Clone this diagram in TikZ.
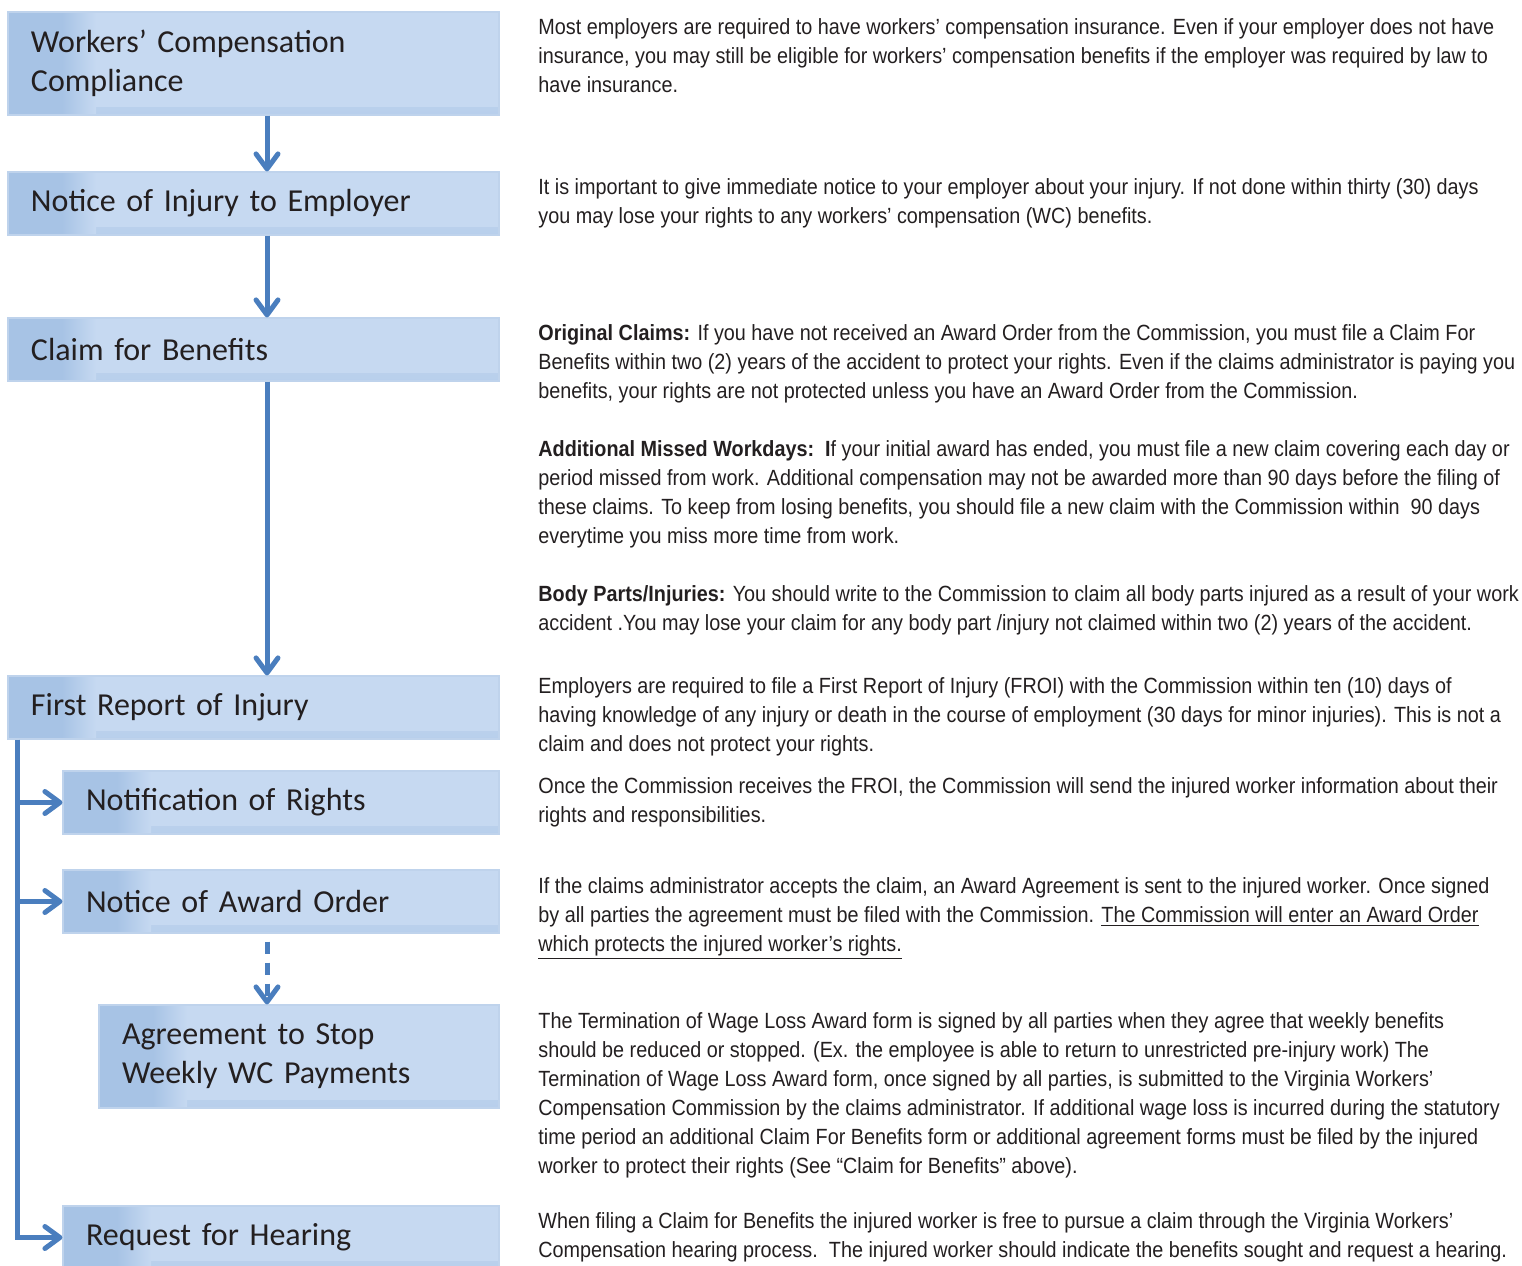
\documentclass[tikz,border=0pt]{standalone}
\usepackage{fontspec}
\setmainfont{Liberation Sans}[FakeStretch=0.9]
\newfontfamily\boxfont{Carlito}
\usetikzlibrary{arrows.meta,positioning,calc}
\definecolor{boxfill}{HTML}{C6D9F1}
\definecolor{boxdark}{HTML}{A7C3E5}
\definecolor{boxline}{HTML}{BFD3EC}
\definecolor{flowblue}{HTML}{4A7EBE}
\definecolor{inkgray}{HTML}{231F20}
\tikzset{
	stage/.style={fill=boxfill,draw=boxline,line width=0.6pt,inner xsep=11.5pt,inner ysep=0pt,
		minimum height=31.5pt,align=left,text=inkgray,font=\boxfont\fontsize{16}{19.5}\selectfont,
		path picture={
			\shade[top color=boxfill,bottom color=boxdark!45!boxfill] ([yshift=4pt]path picture bounding box.south west) rectangle (path picture bounding box.south east);
			\fill[boxdark] (path picture bounding box.south west) rectangle ([xshift=27pt]path picture bounding box.north west);
			\shade[left color=boxdark,right color=boxfill] ([xshift=27pt]path picture bounding box.south west) rectangle ([xshift=44pt]path picture bounding box.north west);
		}},
	note/.style={anchor=base west,inner sep=0pt,align=left,text=inkgray,font=\fontsize{11}{14.5}\selectfont},
	flow/.style={draw=flowblue,line width=2.5pt,-{Straight Barb[length=7.5pt,width=11pt,line width=2.5pt,round]}}
}
\begin{document}
\begin{tikzpicture}[x=0.5pt,y=-0.5pt]
	\useasboundingbox (0,0) rectangle (1522,1265);
	% left column
	\node[stage,text width=222.5pt,minimum height=51.5pt] (wcc) at (253.5,63.5) {Workers’ Compensation\\Compliance};
	\node[stage,text width=222.5pt] (notice) at (253.5,203.5) {Notice of Injury to Employer};
	\node[stage,text width=222.5pt] (claim) at (253.5,349.5) {Claim for Benefits};
	\node[stage,text width=222.5pt] (froi) at (253.5,707.5) {First Report of Injury};
	\node[stage,text width=195pt] (rights) at (281,802.5) {Notification of Rights};
	\node[stage,text width=195pt] (award) at (281,901.5) {Notice of Award Order};
	\node[stage,text width=177pt,minimum height=51.5pt] (stop) at (299,1056.5) {Agreement to Stop\\Weekly WC Payments};
	\node[stage,text width=195pt] (hearing) at (281,1237.5) {Request for Hearing};
	\draw[flow] ([xshift=6.75pt]wcc.south) -- ([xshift=6.75pt]notice.north);
	\draw[flow] ([xshift=6.75pt]notice.south) -- ([xshift=6.75pt]claim.north);
	\draw[flow] ([xshift=6.75pt]claim.south) -- ([xshift=6.75pt]froi.north);
	\draw[flow,dash pattern=on 6pt off 4.5pt,shorten <=4pt] ([xshift=-7pt]award.south) -- ([xshift=-16pt]stop.north);
	\coordinate (trunk) at ([xshift=5pt]froi.south west);
	\draw[flow] (trunk) |- (hearing.west);
	\draw[flow] (rights.west -| trunk) -- (rights.west);
	\draw[flow] (award.west -| trunk) -- (award.west);
	% right column (base = last line)
	\node[note] (t1) at (538,92) {Most employers are required to have workers’ compensation insurance. Even if your employer does not have\\insurance, you may still be eligible for workers’ compensation benefits if the employer was required by law to\\have insurance.};
	\node[note] (t2) at (538,223) {It is important to give immediate notice to your employer about your injury. If not done within thirty (30) days\\you may lose your rights to any workers’ compensation (WC) benefits.};
	\node[note] (t3) at (538,398) {\textbf{Original Claims:} If you have not received an Award Order from the Commission, you must file a Claim For\\Benefits within two (2) years of the accident to protect your rights. Even if the claims administrator is paying you\\benefits, your rights are not protected unless you have an Award Order from the Commission.};
	\node[note] (t4) at (538,543) {\textbf{Additional Missed Workdays:\ \ I}f your initial award has ended, you must file a new claim covering each day or\\period missed from work. Additional compensation may not be awarded more than 90 days before the filing of\\these claims. To keep from losing benefits, you should file a new claim with the Commission within\ \ 90 days\\everytime you miss more time from work.};
	\node[note] (t5) at (538,630) {\textbf{Body Parts/Injuries:} You should write to the Commission to claim all body parts injured as a result of your work\\accident .You may lose your claim for any body part /injury not claimed within two (2) years of the accident.};
	\node[note] (t6) at (538,751) {Employers are required to file a First Report of Injury (FROI) with the Commission within ten (10) days of\\having knowledge of any injury or death in the course of employment (30 days for minor injuries). This is not a\\claim and does not protect your rights.};
	\node[note] (t7) at (538,822) {Once the Commission receives the FROI, the Commission will send the injured worker information about their\\rights and responsibilities.};
	\node[note] (t8) at (538,951) {If the claims administrator accepts the claim, an Award Agreement is sent to the injured worker. Once signed\\by all parties the agreement must be filed with the Commission. \underline{The Commission will enter an Award Order}\\\underline{which protects the injured worker’s rights.}};
	\node[note] (t9) at (538,1173) {The Termination of Wage Loss Award form is signed by all parties when they agree that weekly benefits\\should be reduced or stopped. (Ex. the employee is able to return to unrestricted pre-injury work) The\\Termination of Wage Loss Award form, once signed by all parties, is submitted to the Virginia Workers’\\Compensation Commission by the claims administrator. If additional wage loss is incurred during the statutory\\time period an additional Claim For Benefits form or additional agreement forms must be filed by the injured\\worker to protect their rights (See “Claim for Benefits” above).};
	\node[note] (t10) at (538,1257) {When filing a Claim for Benefits the injured worker is free to pursue a claim through the Virginia Workers’\\Compensation hearing process.\ \ The injured worker should indicate the benefits sought and request a hearing.};
\end{tikzpicture}
\end{document}
